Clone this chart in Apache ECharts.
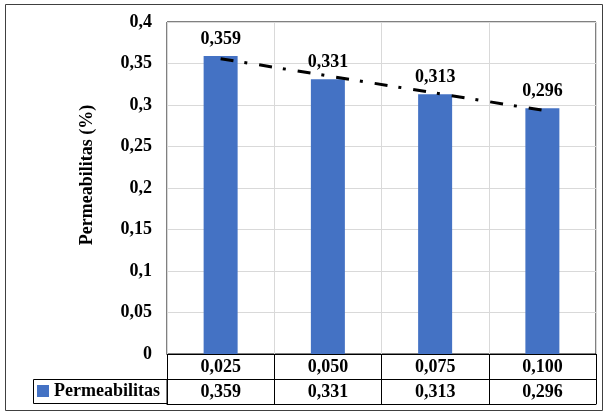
<!DOCTYPE html>
<html>
<head>
<meta charset="utf-8">
<script src="https://cdn.jsdelivr.net/npm/echarts@6/dist/echarts.min.js"></script>
<style>
  html, body { margin: 0; padding: 0; background: #fff; }
  #chart { width: 608px; height: 414px; }
</style>
</head>
<body>
<div id="chart"></div>
<script>
// Concentration levels (category axis) and measured permeability
const concentrations = [0.025, 0.050, 0.075, 0.100];
const permeability = [0.359, 0.331, 0.313, 0.296];
const yTicks = { min: 0, max: 0.4, step: 0.05 };
const seriesName = 'Permeabilitas';
const yTitle = 'Permeabilitas (%)';

const FONT = "'Liberation Serif', 'Times New Roman', serif";
const fmt3 = v => v.toFixed(3).replace('.', ',');
const fmtAxis = v => String(+v.toFixed(2)).replace('.', ',');

// Linear least-squares trendline over the category positions 1..n
function linearTrend(ys) {
  const n = ys.length;
  const xs = ys.map((_, i) => i + 1);
  const mx = xs.reduce((a, b) => a + b, 0) / n;
  const my = ys.reduce((a, b) => a + b, 0) / n;
  let sxy = 0, sxx = 0;
  for (let i = 0; i < n; i++) {
    sxy += (xs[i] - mx) * (ys[i] - my);
    sxx += (xs[i] - mx) * (xs[i] - mx);
  }
  const slope = sxy / sxx;
  return xs.map(x => my + slope * (x - mx));
}
const trend = linearTrend(permeability);

const catLabels = concentrations.map(fmt3);
const valueLabels = permeability.map(fmt3);

// plot area geometry
const G = { left: 167, top: 22, width: 429, height: 332 };
const rowH = 25;

const chart = echarts.init(document.getElementById('chart'), null, { renderer: 'canvas' });

const labelText = { color: '#000', fontFamily: FONT, fontWeight: 'bold', fontSize: 18 };

chart.setOption({
  backgroundColor: '#fff',
  animation: false,
  grid: {
    left: G.left, top: G.top, width: G.width, height: G.height,
    show: true, borderColor: '#000', borderWidth: 1, backgroundColor: 'transparent'
  },
  legend: {
    data: [seriesName],
    left: 37, top: 382,
    icon: 'rect', itemWidth: 12, itemHeight: 12,
    itemGap: 4,
    textStyle: labelText,
    padding: 0
  },
  xAxis: [
    {
      type: 'category', data: catLabels, position: 'bottom',
      axisLine: { show: true, lineStyle: { color: '#000', width: 1 } },
      axisTick: { show: true, length: rowH * 2, interval: 0, lineStyle: { color: '#000', width: 1 } },
      axisLabel: Object.assign({ margin: 4, interval: 0 }, labelText),
      splitLine: { show: true, interval: 0, lineStyle: { color: '#d9d9d9', width: 1 } }
    },
    {
      type: 'category', data: valueLabels, position: 'bottom', offset: rowH,
      axisLine: { show: true, lineStyle: { color: '#000', width: 1 } },
      axisTick: { show: false },
      axisLabel: Object.assign({ margin: 4, interval: 0 }, labelText),
      splitLine: { show: false }
    },
    {
      type: 'category', data: catLabels, position: 'bottom', offset: rowH * 2,
      axisLine: { show: true, lineStyle: { color: '#000', width: 1 } },
      axisTick: { show: false },
      axisLabel: { show: false },
      splitLine: { show: false }
    }
  ],
  yAxis: {
    type: 'value', min: yTicks.min, max: yTicks.max, interval: yTicks.step,
    axisLine: { show: false },
    axisTick: { show: false },
    axisLabel: Object.assign({ margin: 15, formatter: fmtAxis }, labelText),
    splitLine: { show: true, lineStyle: { color: '#d9d9d9', width: 1 } }
  },
  series: [
    {
      name: seriesName, type: 'bar', data: permeability,
      barWidth: 34,
      itemStyle: { color: '#4472C4' },
      label: {
        show: true, position: 'top', distance: 8,
        formatter: p => fmt3(p.value),
        ...labelText
      },
      z: 2
    },
    {
      name: 'Linear (' + seriesName + ')', type: 'line', data: trend,
      symbol: 'none', silent: true,
      lineStyle: { color: '#000', width: 3, type: [13, 11, 3, 12], cap: 'butt' },
      z: 5
    }
  ],
  graphic: [
    {
      type: 'rect', silent: true,
      shape: { x: 5.5, y: 4.5, width: 597, height: 406 },
      style: { fill: 'none', stroke: '#404040', lineWidth: 1 }
    },
    {
      type: 'rect', silent: true,
      shape: { x: 33.5, y: G.top + G.height + rowH + 0.5, width: G.left - 33.5, height: rowH - 1 },
      style: { fill: 'none', stroke: '#000', lineWidth: 1 }
    },
    {
      type: 'text', silent: true,
      x: 87, y: 175, rotation: Math.PI / 2,
      style: {
        text: yTitle, fill: '#000',
        font: 'bold 18px ' + FONT,
        align: 'center', verticalAlign: 'middle'
      }
    }
  ]
});
</script>
</body>
</html>
